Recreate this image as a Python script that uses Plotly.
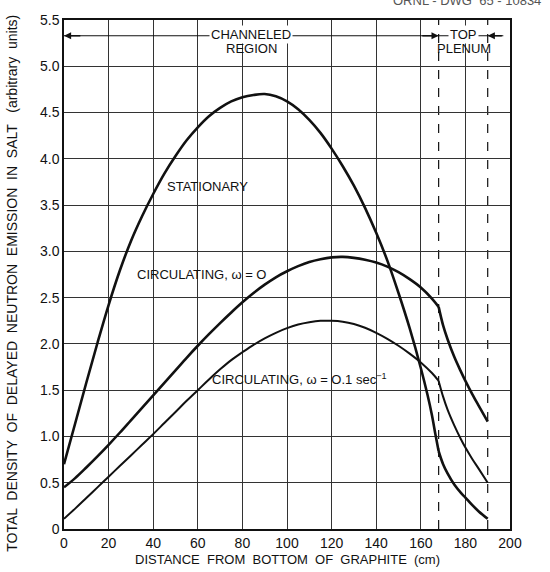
import plotly.graph_objects as go

# ---------------- data ----------------
x_stationary = [0, 5, 10, 15, 20, 25, 30, 35, 40, 45, 50, 55, 60, 65, 70, 75, 80, 85, 90, 95,
                100, 105, 110, 115, 120, 125, 130, 135, 140, 145, 150, 155, 160, 163, 165, 166.5,
                168, 170, 172, 175, 178, 180, 183, 186, 190]
y_stationary = [0.70, 1.14, 1.58, 2.01, 2.42, 2.79, 3.11, 3.38, 3.62, 3.84, 4.03, 4.20, 4.34, 4.46,
                4.55, 4.62, 4.665, 4.69, 4.70, 4.675, 4.62, 4.535, 4.42, 4.28, 4.11, 3.92, 3.71,
                3.47, 3.20, 2.90, 2.55, 2.17, 1.74, 1.45, 1.23, 1.03, 0.84,
                0.70, 0.60, 0.48, 0.39, 0.34, 0.26, 0.19, 0.11]

x_circ0 = [0, 5, 10, 15, 20, 25, 30, 35, 40, 45, 50, 55, 60, 65, 70, 75, 80, 85, 90, 95, 100,
           105, 110, 115, 120, 125, 130, 135, 140, 145, 150, 155, 160, 165, 168,
           170, 172, 175, 178, 180, 183, 186, 190]
y_circ0 = [0.45, 0.55, 0.665, 0.785, 0.91, 1.04, 1.175, 1.31, 1.445, 1.58, 1.715, 1.85, 1.98,
           2.105, 2.225, 2.34, 2.45, 2.55, 2.64, 2.72, 2.785, 2.84, 2.885, 2.915, 2.935, 2.94,
           2.93, 2.91, 2.88, 2.835, 2.775, 2.70, 2.61, 2.49, 2.40,
           2.20, 2.05, 1.86, 1.70, 1.60, 1.46, 1.33, 1.16]

x_circ01 = [0, 5, 10, 15, 20, 25, 30, 35, 40, 45, 50, 55, 60, 65, 70, 75, 80, 85, 90, 95, 100,
            105, 110, 115, 120, 125, 130, 135, 140, 145, 150, 155, 160, 165, 168,
            170, 172, 175, 178, 180, 183, 186, 190]
y_circ01 = [0.11, 0.22, 0.335, 0.45, 0.565, 0.68, 0.795, 0.91, 1.025, 1.145, 1.265, 1.385, 1.50,
            1.615, 1.725, 1.825, 1.91, 1.99, 2.06, 2.12, 2.17, 2.21, 2.235, 2.25, 2.25, 2.24,
            2.215, 2.175, 2.12, 2.055, 1.98, 1.895, 1.80, 1.685, 1.60,
            1.43, 1.29, 1.12, 0.97, 0.88, 0.76, 0.65, 0.50]

region_bounds = [168, 190]          # end of channeled region, top of plenum (cm)
x_ticks = [0, 20, 40, 60, 80, 100, 120, 140, 160, 180, 200]
y_ticks = [0, 0.5, 1.0, 1.5, 2.0, 2.5, 3.0, 3.5, 4.0, 4.5, 5.0, 5.5]
y_ticktext = ["0", "0.5", "1.0", "1.5", "2.0", "2.5", "3.0", "3.5", "4.0", "4.5", "5.0", "5.5"]

FONT = "Liberation Sans"
INK = "#111111"

fig = go.Figure()


def add_curve(xs, ys, width):
    """Draw a curve as two smooth pieces joined with a sharp corner at the region boundary."""
    k = xs.index(region_bounds[0])
    for sx, sy in ((xs[:k + 1], ys[:k + 1]), (xs[k:], ys[k:])):
        fig.add_trace(go.Scatter(x=sx, y=sy, mode="lines",
                                 line=dict(color=INK, width=width, shape="spline", smoothing=1.0),
                                 hoverinfo="skip"))


add_curve(x_stationary, y_stationary, 2.6)
add_curve(x_circ0, y_circ0, 2.6)
add_curve(x_circ01, y_circ01, 2.0)

# dashed region boundaries
for xb in region_bounds:
    fig.add_shape(type="line", x0=xb, x1=xb, y0=0, y1=5.5, xref="x", yref="y",
                  line=dict(color=INK, width=1.2, dash="dash"), layer="below")

# dimension lines at the top
ydim = 5.33
fig.add_shape(type="line", x0=0, x1=region_bounds[0], y0=ydim, y1=ydim,
              line=dict(color=INK, width=1.2))
fig.add_shape(type="line", x0=region_bounds[0], x1=197, y0=ydim, y1=ydim,
              line=dict(color=INK, width=1.2))
arrow_common = dict(xref="x", yref="y", axref="x", ayref="y", text="", showarrow=True,
                    arrowhead=2, arrowsize=1.1, arrowwidth=1.3, arrowcolor=INK)
fig.add_annotation(x=0, y=ydim, ax=8, ay=ydim, **arrow_common)
fig.add_annotation(x=region_bounds[0], y=ydim, ax=region_bounds[0] - 8, ay=ydim, **arrow_common)
fig.add_annotation(x=region_bounds[1], y=ydim, ax=region_bounds[1] + 7, ay=ydim, **arrow_common)

txt_font = dict(family=FONT, size=13, color=INK)
fig.add_annotation(x=84, y=5.345, text="CHANNELED", showarrow=False, font=txt_font,
                   bgcolor="white", borderpad=1)
fig.add_annotation(x=84, y=5.195, text="REGION", showarrow=False, font=txt_font)
fig.add_annotation(x=179, y=5.345, text="TOP", showarrow=False, font=txt_font,
                   bgcolor="white", borderpad=1)
fig.add_annotation(x=179.5, y=5.195, text="PLENUM", showarrow=False, font=txt_font)

# curve labels
fig.add_annotation(x=64.5, y=3.70, text="STATIONARY", showarrow=False, font=txt_font)
fig.add_annotation(x=61.7, y=2.75, text="CIRCULATING, \u03c9 = O", showarrow=False, font=txt_font)
fig.add_annotation(x=105.5, y=1.62, text="CIRCULATING, \u03c9 = O.1 sec<sup>\u22121</sup>",
                   showarrow=False, font=txt_font)

# axis titles as annotations
fig.add_annotation(xref="paper", yref="y", x=0, y=2.65, xshift=-52, textangle=-90,
                   xanchor="center", yanchor="middle",
                   text="TOTAL  DENSITY  OF  DELAYED  NEUTRON  EMISSION  IN  SALT   (arbitrary  units)",
                   showarrow=False, font=dict(family=FONT, size=14, color=INK))
fig.add_annotation(xref="x", yref="paper", x=100, y=0, yshift=-30,
                   xanchor="center", yanchor="middle",
                   text="DISTANCE  FROM  BOTTOM  OF  GRAPHITE  (cm)",
                   showarrow=False, font=dict(family=FONT, size=13, color=INK))

# clipped drawing number at top right
fig.add_annotation(xref="paper", yref="paper", x=1.075, y=1, xanchor="right", yanchor="middle",
                   yshift=20, text="ORNL - DWG  65 - 10834", showarrow=False,
                   font=dict(family=FONT, size=13, color="#555"))

axis_common = dict(showgrid=True, gridcolor="#333333", gridwidth=1, zeroline=False,
                   showline=True, linecolor=INK, linewidth=1.5, mirror=True, ticks="",
                   tickfont=dict(family=FONT, size=14, color=INK))
fig.update_xaxes(range=[0, 200], tickvals=x_ticks, **axis_common)
fig.update_yaxes(range=[0, 5.5], tickvals=y_ticks, ticktext=y_ticktext, **axis_common)

fig.update_layout(width=550, height=572, showlegend=False,
                  margin=dict(l=64, r=40, t=16, b=43),
                  paper_bgcolor="white", plot_bgcolor="white")

fig.write_html("out.html")
